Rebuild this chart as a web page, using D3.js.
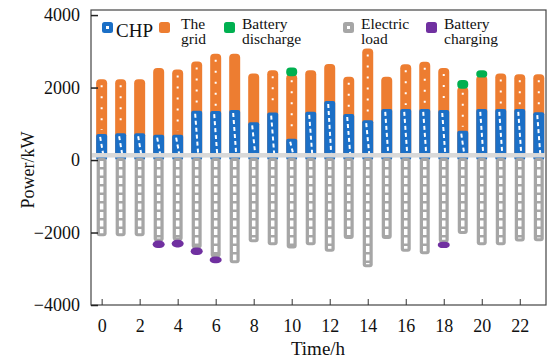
<!DOCTYPE html>
<html>
<head>
<meta charset="utf-8">
<script src="https://cdn.jsdelivr.net/npm/d3@7/dist/d3.min.js"></script>
<style>
    html, body { margin: 0; padding: 0; background: #fff; }
    svg text { font-family: "Liberation Serif", "Times New Roman", serif; fill: #111; }
</style>
</head>
<body>
<div id="chart"></div>
<script>
// --- Data (kW per hour) ---
const hours = d3.range(24);
const xTicks = [0, 2, 4, 6, 8, 10, 12, 14, 16, 18, 20, 22];
const yTicks = [-4000, -2000, 0, 2000, 4000];

const chp = [720, 740, 740, 700, 700, 1360, 1350, 1380, 1040, 1310, 590, 1330,
             1630, 1270, 1100, 1410, 1410, 1410, 1380, 810, 1410, 1410, 1410, 1320];
const grid = [1510, 1490, 1490, 1840, 1800, 1360, 1580, 1550, 1350, 1170, 1780, 1150,
              1020, 1030, 1980, 890, 1230, 1300, 1160, 1210, 920, 980, 960, 1050];
const discharge = [0, 0, 0, 0, 0, 0, 0, 0, 0, 0, 180, 0,
                   0, 0, 0, 0, 0, 0, 0, 190, 150, 0, 0, 0];
const load = [2100, 2100, 2100, 2250, 2230, 2440, 2690, 2850, 2270, 2350, 2440, 2350,
              2530, 2180, 2960, 2180, 2530, 2600, 2280, 2040, 2350, 2350, 2250, 2240];
const charging = [0, 0, 0, 180, 180, 180, 160, 0, 0, 0, 0, 0,
                  0, 0, 0, 0, 0, 0, 150, 0, 0, 0, 0, 0];

const legendItems = [
    { key: 'chp', lines: ['CHP'] },
    { key: 'grid', lines: ['The', 'grid'] },
    { key: 'discharge', lines: ['Battery', 'discharge'] },
    { key: 'load', lines: ['Electric', 'load'] },
    { key: 'charging', lines: ['Battery', 'charging'] }
];

// --- Styles ---
const colors = {
    chp: '#1b6fc6',
    grid: '#ed7d31',
    discharge: '#00b050',
    load: '#a6a6a6',
    charging: '#7030a0'
};
// bars whose grid segment shows the white dotted centre
const dottedGrid = new Set([0, 1, 4, 5, 6, 9, 10, 13, 14, 16, 17, 18, 19, 21, 22, 23]);

const width = 551, height = 363;
const frame = { left: 91, right: 546, top: 10, bottom: 305 };
const barW = 11;

const svg = d3.select('#chart').append('svg')
    .attr('width', width)
    .attr('height', height);

const x = d3.scaleLinear().domain([-0.56, 23.38]).range([frame.left, frame.right]);
const y = d3.scaleLinear().domain([-4000, 4140]).range([frame.bottom, frame.top]);

const plot = svg.append('g');

// --- Supply side (stacked up from zero) ---
const supply = plot.selectAll('.supply')
    .data(hours)
    .enter().append('g')
    .attr('class', 'supply');

// grid segment drawn full height so its top is rounded
supply.append('rect')
    .attr('x', d => x(d) - barW / 2)
    .attr('width', barW)
    .attr('y', d => y(chp[d] + grid[d]))
    .attr('height', d => y(0) - y(chp[d] + grid[d]))
    .attr('rx', 4)
    .attr('fill', colors.grid);

supply.filter(d => dottedGrid.has(d)).append('line')
    .attr('x1', d => x(d)).attr('x2', d => x(d))
    .attr('y1', d => y(chp[d] + grid[d]) + 6)
    .attr('y2', d => y(chp[d]) - 4)
    .attr('stroke', '#fff')
    .attr('stroke-width', 2)
    .attr('stroke-dasharray', '2,9');

// battery discharge cap
supply.filter(d => discharge[d] > 0).append('rect')
    .attr('x', d => x(d) - barW / 2)
    .attr('width', barW)
    .attr('y', d => y(chp[d] + grid[d] + discharge[d]))
    .attr('height', d => y(chp[d] + grid[d]) - y(chp[d] + grid[d] + discharge[d]) + 2)
    .attr('rx', 4)
    .attr('fill', colors.discharge);

// CHP segment
supply.append('rect')
    .attr('x', d => x(d) - barW / 2)
    .attr('width', barW)
    .attr('y', d => y(chp[d]))
    .attr('height', d => y(0) - y(chp[d]))
    .attr('rx', 2)
    .attr('fill', colors.chp);

supply.append('line')
    .attr('x1', d => x(d) - 1.5).attr('x2', d => x(d) + 1.5)
    .attr('y1', d => y(chp[d]) + 3)
    .attr('y2', d => y(0) - 6)
    .attr('stroke', '#fff')
    .attr('stroke-width', 2)
    .attr('stroke-dasharray', '4,3');

// --- Demand side (below zero) ---
const demand = plot.selectAll('.demand')
    .data(hours)
    .enter().append('g')
    .attr('class', 'demand');

demand.append('rect')
    .attr('x', d => x(d) - barW / 2 + 0.5)
    .attr('width', barW - 1)
    .attr('y', y(0) - 2)
    .attr('height', d => y(-load[d]) - y(0) + 2)
    .attr('rx', 3)
    .attr('fill', colors.load);

demand.append('line')
    .attr('x1', d => x(d)).attr('x2', d => x(d))
    .attr('y1', y(0) + 1)
    .attr('y2', d => y(-load[d]) - 3)
    .attr('stroke', '#fff')
    .attr('stroke-width', 3.5)
    .attr('stroke-dasharray', '6,2.5');

// battery charging cap
demand.filter(d => charging[d] > 0).append('rect')
    .attr('x', d => x(d) - barW / 2 - 0.5)
    .attr('width', barW + 1)
    .attr('y', d => y(-load[d]) - 1)
    .attr('height', d => y(-load[d] - charging[d]) - y(-load[d]) + 1)
    .attr('rx', 5)
    .attr('fill', colors.charging);

// light zero band
plot.append('rect')
    .attr('x', frame.left + 1)
    .attr('width', frame.right - frame.left - 2)
    .attr('y', y(0) - 7)
    .attr('height', 4.5)
    .attr('fill', '#d9d9d9');

// --- Frame and axes ---
svg.append('rect')
    .attr('x', frame.left).attr('y', frame.top)
    .attr('width', frame.right - frame.left)
    .attr('height', frame.bottom - frame.top)
    .attr('fill', 'none')
    .attr('stroke', '#444')
    .attr('stroke-width', 1.2);

const xAxis = svg.append('g')
    .attr('transform', `translate(0,${frame.bottom})`)
    .call(d3.axisBottom(x).tickValues(xTicks).tickSizeInner(-6).tickSizeOuter(0).tickPadding(14));
xAxis.select('.domain').remove();
xAxis.selectAll('line').attr('stroke', '#333');
xAxis.selectAll('text')
    .style('font-family', '"Liberation Serif", serif')
    .style('font-size', '18px')
    .attr('fill', '#111');

const yAxis = svg.append('g')
    .attr('transform', `translate(${frame.left},0)`)
    .call(d3.axisLeft(y).tickValues(yTicks).tickSizeInner(-7).tickSizeOuter(0).tickPadding(11)
        .tickFormat(d => d < 0 ? '\u2212' + Math.abs(d) : d));
yAxis.select('.domain').remove();
yAxis.selectAll('line').attr('stroke', '#222').attr('stroke-width', 1.5);
yAxis.selectAll('text')
    .style('font-family', '"Liberation Serif", serif')
    .style('font-size', '18px')
    .attr('fill', '#111');

svg.append('text')
    .attr('x', 318).attr('y', 355)
    .attr('text-anchor', 'middle')
    .style('font-size', '19px')
    .text('Time/h');

svg.append('text')
    .attr('transform', 'translate(34,170) rotate(-90)')
    .attr('text-anchor', 'middle')
    .style('font-size', '18px')
    .text('Power/kW');

// --- Legend ---
const legendX = [102, 159, 224, 343, 426];
const legend = svg.selectAll('.legend')
    .data(legendItems)
    .enter().append('g')
    .attr('class', 'legend')
    .attr('transform', (d, i) => `translate(${legendX[i]},22)`);

legend.append('rect')
    .attr('width', 11).attr('height', 11)
    .attr('rx', 2.5)
    .attr('fill', d => colors[d.key]);

legend.filter(d => d.key === 'chp' || d.key === 'load').append('rect')
    .attr('x', 4).attr('y', 4)
    .attr('width', 3).attr('height', 3)
    .attr('fill', '#fff');

legend.each(function (d) {
    const g = d3.select(this);
    if (d.lines.length === 1) {
        g.append('text')
            .attr('x', 14).attr('y', 14.5)
            .style('font-size', '19px')
            .text(d.lines[0]);
    } else {
        d.lines.forEach((line, j) => {
            g.append('text')
                .attr('x', 18 + (d.key === 'grid' ? 4 : 0))
                .attr('y', 6.5 + j * 15.5)
                .style('font-size', '15.5px')
                .text(line);
        });
    }
});
</script>
</body>
</html>
